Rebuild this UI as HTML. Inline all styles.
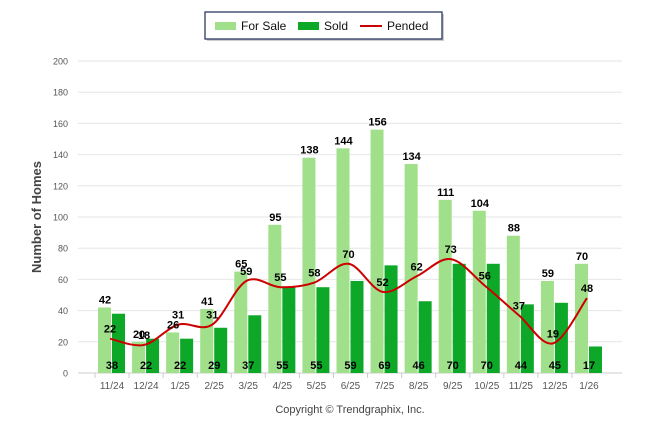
<!DOCTYPE html>
<html><head><meta charset="utf-8"><style>
body{margin:0;background:#fff;font-family:"Liberation Sans",Arial,sans-serif}
svg text{font-family:"Liberation Sans",Arial,sans-serif}
</style></head><body>
<svg id="c" width="646" height="434">
<g>
<rect x="207" y="14" width="237" height="27" fill="#999" opacity="0.5"/>
<rect x="205" y="12" width="237" height="27" fill="#fff" stroke="#1b2a55" stroke-width="1.2"/>
<rect x="215" y="22" width="21" height="8" fill="#a0e08a"/>
<text x="241" y="30" font-size="12" fill="#111">For Sale</text>
<rect x="298" y="22" width="21" height="8" fill="#0ea828"/>
<text x="324" y="30" font-size="12" fill="#111">Sold</text>
<line x1="360" y1="26" x2="382" y2="26" stroke="#c00" stroke-width="2"/>
<text x="387" y="30" font-size="12" fill="#111">Pended</text>
</g>
<text transform="translate(41,217) rotate(-90)" text-anchor="middle" font-size="13" font-weight="bold" fill="#444">Number of Homes</text>
<text x="350" y="413" text-anchor="middle" font-size="11" fill="#444">Copyright © Trendgraphix, Inc.</text>
<g id="grid"></g><g id="bars"></g><g id="line"></g><g id="labels"></g>
</svg>
<script>
const categories=["11/24","12/24","1/25","2/25","3/25","4/25","5/25","6/25","7/25","8/25","9/25","10/25","11/25","12/25","1/26"];
const forSale=[42,20,26,41,65,95,138,144,156,134,111,104,88,59,70];
const sold=[38,22,22,29,37,55,55,59,69,46,70,70,44,45,17];
const pended=[22,18,31,31,59,55,58,70,52,62,73,56,37,19,48];
const yTicks=[0,20,40,60,80,100,120,140,160,180,200];
const NS="http://www.w3.org/2000/svg";
const y=v=>373-v*1.56, xc=i=>112+i*34.07;
function mk(t,a,p){const e=document.createElementNS(NS,t);for(const k in a)e.setAttribute(k,a[k]);document.getElementById(p).appendChild(e);return e;}
yTicks.forEach(t=>{
 const l=mk('line',{x1:78,x2:622,y1:y(t),y2:y(t),stroke:t?'#e6e6e6':'#ccc'},'grid');
 
 
 const tx=mk('text',{x:68,y:y(t)+3.5,'text-anchor':'end','font-size':9,fill:'#555'},'grid');tx.textContent=t;
 
 
});
categories.forEach((c,i)=>{
 const tx=mk('text',{x:xc(i),y:389,'text-anchor':'middle','font-size':10,fill:'#555'},'grid');tx.textContent=c;
 
 
 const tk=mk('line',{x1:xc(i)-17,x2:xc(i)-17,y1:373,y2:378,stroke:'#ccc'},'grid');
 
 
 const b1=mk('rect',{x:xc(i)-14,y:y(forSale[i]),width:13,height:forSale[i]*1.56,fill:'#a0e08a'},'bars');
 
 
 const b2=mk('rect',{x:xc(i),y:y(sold[i]),width:13,height:sold[i]*1.56,fill:'#0ea828'},'bars');
 
 
 const lab=(x,yy,v,n)=>{const t=mk('text',{x:x,y:yy,'text-anchor':'middle','font-size':11,'font-weight':'bold',fill:'#000'},'labels');t.textContent=v;
  
  };
 lab(xc(i)-7,y(forSale[i])-4,forSale[i],'label-for-sale');
 lab(xc(i),369,sold[i],'label-sold');
 lab(xc(i)-2,y(pended[i])-6,pended[i],'label-pended');
});
const pts=pended.map((v,i)=>[xc(i)-2,y(v)]);
let d='M'+pts[0][0]+','+pts[0][1];
for(let i=0;i<pts.length-1;i++){const p0=pts[i-1]||pts[i],p1=pts[i],p2=pts[i+1],p3=pts[i+2]||p2;
 d+=` C${p1[0]+(p2[0]-p0[0])/6},${p1[1]+(p2[1]-p0[1])/6} ${p2[0]-(p3[0]-p1[0])/6},${p2[1]-(p3[1]-p1[1])/6} ${p2[0]},${p2[1]}`;}
const pl=mk('path',{d:d,fill:'none',stroke:'#c00',"stroke-width":2},'line');


</script>
</body></html>
